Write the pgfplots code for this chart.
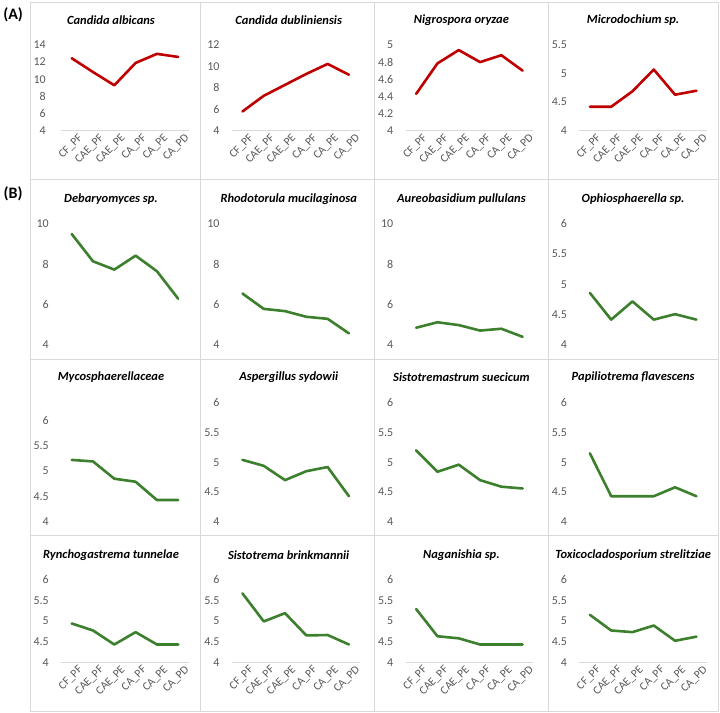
\documentclass[border=0pt]{standalone}
\usepackage{pgfplots}
\pgfplotsset{compat=1.18}
\usepackage{fontspec}
\setmainfont{Carlito}
\definecolor{redl}{HTML}{C00000}
\definecolor{greenl}{HTML}{3C7F2C}
\definecolor{tickgray}{HTML}{595959}
\definecolor{axisgray}{HTML}{D9D9D9}
\definecolor{boxgray}{HTML}{D9D9D9}
\newcommand{\tf}{\bfseries\itshape\fontsize{12.5}{14}\selectfont}
\pgfplotsset{
  panel/.style={
    scale only axis, width=128pt,
    xmin=-0.5, xmax=5.5, xtick={0,1,2,3,4,5},
    axis x line=bottom, axis y line=left,
    y axis line style={draw=none},
    x axis line style={draw=none,-},
    tick style={draw=none},
    yticklabel style={font=\fontsize{12}{14}\selectfont, text=tickgray, anchor=east, inner sep=0pt, xshift=-10pt},
    xticklabels={},
    /pgf/number format/assume math mode=true,
    anchor=south west,
  },
  withx/.style={
    x axis line style={draw=axisgray, line width=0.8pt,-},
    xticklabels={CF\_PF,CAE\_PF,CAE\_PE,CA\_PF,CA\_PE,CA\_PD},
    xticklabel style={rotate=45, anchor=east, font=\fontsize{11.5}{13}\selectfont, text=tickgray, inner sep=0pt, xshift=4pt, yshift=-9pt},
  },
  rl/.style={redl, line width=2.6pt, line join=round, line cap=round},
  gl/.style={greenl, line width=2.6pt, line join=round, line cap=round},
}
\begin{document}
\begin{tikzpicture}
\path (0pt,0pt) rectangle (720pt,-714pt);
% boxes
\foreach \xa/\xb in {29/200,200/374,374/548,548/718}{
  \foreach \ya/\yb in {3/180,180/360,360/536,536/713}{
    \draw[boxgray, line width=1pt] (\xa pt,-\ya pt) rectangle (\xb pt,-\yb pt);
  }
}
\node[font=\bfseries\fontsize{16}{18}\selectfont] at (12pt,-15pt) {(A)};
\node[font=\bfseries\fontsize{16}{18}\selectfont] at (12pt,-194pt) {(B)};
% titles
\node at (110pt,-20pt) {\tf Candida albicans};
\node at (288pt,-20pt) {\tf Candida dubliniensis};
\node at (461pt,-20pt) {\tf Nigrospora oryzae};
\node at (633pt,-20pt) {\tf Microdochium sp.};
\node at (110pt,-199pt) {\tf Debaryomyces sp.};
\node at (288pt,-199pt) {\tf Rhodotorula mucilaginosa};
\node at (461pt,-199pt) {\tf Aureobasidium pullulans};
\node at (633pt,-199pt) {\tf Ophiosphaerella sp.};
\node at (110pt,-378pt) {\tf Mycosphaerellaceae};
\node at (288pt,-378pt) {\tf Aspergillus sydowii};
\node at (461pt,-378pt) {\tf Sistotremastrum suecicum};
\node at (633pt,-378pt) {\tf Papiliotrema flavescens};
\node at (110pt,-556pt) {\tf Rynchogastrema tunnelae};
\node at (288pt,-556pt) {\tf Sistotrema brinkmannii};
\node at (461pt,-556pt) {\tf Naganishia sp.};
\node at (633pt,-556pt) {\tf Toxicocladosporium strelitziae};

% ---------- Row 1 ----------
\begin{axis}[panel, withx, at={(60pt,-131pt)}, height=86pt, ymin=4, ymax=14, ytick={4,6,8,10,12,14},
  yticklabel style={xshift=-3pt}]
\addplot[rl] coordinates {(0,12.45)(1,10.84)(2,9.3)(3,11.9)(4,12.96)(5,12.6)};
\end{axis}
\begin{axis}[panel, withx, at={(231pt,-131pt)}, height=86pt, ymin=4, ymax=12, ytick={4,6,8,10,12}]
\addplot[rl] coordinates {(0,5.8)(1,7.26)(2,8.28)(3,9.3)(4,10.23)(5,9.22)};
\end{axis}
\begin{axis}[panel, withx, at={(405pt,-131pt)}, height=86pt, ymin=4, ymax=5, ytick={4,4.2,4.4,4.6,4.8,5}]
\addplot[rl] coordinates {(0,4.43)(1,4.785)(2,4.94)(3,4.80)(4,4.88)(5,4.70)};
\end{axis}
\begin{axis}[panel, withx, at={(579pt,-131pt)}, height=86pt, ymin=4, ymax=5.5, ytick={4,4.5,5,5.5}]
\addplot[rl] coordinates {(0,4.42)(1,4.42)(2,4.69)(3,5.07)(4,4.63)(5,4.70)};
\end{axis}

% ---------- Row 2 ----------
\begin{axis}[panel, at={(60pt,-345.7pt)}, height=121.7pt, ymin=4, ymax=10, ytick={4,6,8,10}]
\addplot[gl] coordinates {(0,9.49)(1,8.14)(2,7.73)(3,8.42)(4,7.65)(5,6.29)};
\end{axis}
\begin{axis}[panel, at={(231pt,-345.7pt)}, height=121.7pt, ymin=4, ymax=10, ytick={4,6,8,10}]
\addplot[gl] coordinates {(0,6.55)(1,5.79)(2,5.68)(3,5.40)(4,5.30)(5,4.58)};
\end{axis}
\begin{axis}[panel, at={(405pt,-345.7pt)}, height=121.7pt, ymin=4, ymax=10, ytick={4,6,8,10}]
\addplot[gl] coordinates {(0,4.86)(1,5.13)(2,4.99)(3,4.72)(4,4.81)(5,4.41)};
\end{axis}
\begin{axis}[panel, at={(579pt,-345.7pt)}, height=121.7pt, ymin=4, ymax=6, ytick={4,4.5,5,5.5,6}]
\addplot[gl] coordinates {(0,4.86)(1,4.42)(2,4.72)(3,4.42)(4,4.51)(5,4.42)};
\end{axis}

% ---------- Row 3 ----------
\begin{axis}[panel, at={(60pt,-522.7pt)}, height=101.7pt, ymin=4, ymax=6, ytick={4,4.5,5,5.5,6}]
\addplot[gl] coordinates {(0,5.22)(1,5.19)(2,4.85)(3,4.79)(4,4.43)(5,4.43)};
\end{axis}
\begin{axis}[panel, at={(231pt,-522.7pt)}, height=119.4pt, ymin=4, ymax=6, ytick={4,4.5,5,5.5,6}]
\addplot[gl] coordinates {(0,5.04)(1,4.94)(2,4.70)(3,4.85)(4,4.92)(5,4.43)};
\end{axis}
\begin{axis}[panel, at={(405pt,-522.7pt)}, height=119.4pt, ymin=4, ymax=6, ytick={4,4.5,5,5.5,6}]
\addplot[gl] coordinates {(0,5.20)(1,4.84)(2,4.96)(3,4.70)(4,4.59)(5,4.56)};
\end{axis}
\begin{axis}[panel, at={(579pt,-522.7pt)}, height=119.4pt, ymin=4, ymax=6, ytick={4,4.5,5,5.5,6}]
\addplot[gl] coordinates {(0,5.15)(1,4.43)(2,4.43)(3,4.43)(4,4.58)(5,4.43)};
\end{axis}

% ---------- Row 4 ----------
\begin{axis}[panel, withx, at={(60pt,-663.3pt)}, height=82.6pt, ymin=4, ymax=6, ytick={4,4.5,5,5.5,6}]
\addplot[gl] coordinates {(0,4.94)(1,4.77)(2,4.43)(3,4.73)(4,4.43)(5,4.43)};
\end{axis}
\begin{axis}[panel, withx, at={(231pt,-663.3pt)}, height=82.6pt, ymin=4, ymax=6, ytick={4,4.5,5,5.5,6}]
\addplot[gl] coordinates {(0,5.67)(1,4.99)(2,5.19)(3,4.65)(4,4.66)(5,4.43)};
\end{axis}
\begin{axis}[panel, withx, at={(405pt,-663.3pt)}, height=82.6pt, ymin=4, ymax=6, ytick={4,4.5,5,5.5,6}]
\addplot[gl] coordinates {(0,5.29)(1,4.63)(2,4.58)(3,4.43)(4,4.43)(5,4.43)};
\end{axis}
\begin{axis}[panel, withx, at={(579pt,-663.3pt)}, height=82.6pt, ymin=4, ymax=6, ytick={4,4.5,5,5.5,6}]
\addplot[gl] coordinates {(0,5.15)(1,4.77)(2,4.73)(3,4.89)(4,4.52)(5,4.62)};
\end{axis}
\end{tikzpicture}
\end{document}
